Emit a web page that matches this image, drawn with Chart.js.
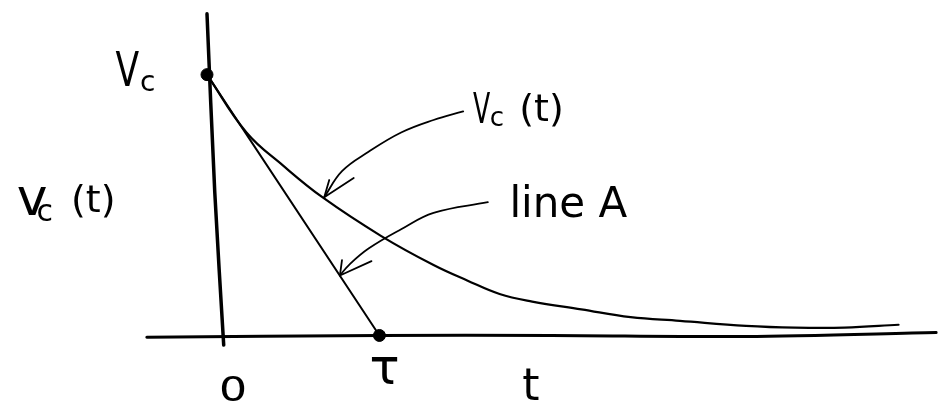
<!DOCTYPE html>
<html>
<head>
<meta charset="utf-8">
<script src="https://cdn.jsdelivr.net/npm/chart.js@4"></script>
<style>
html, body { margin: 0; padding: 0; background: #fff; }
#wrap { width: 946px; height: 413px; }
</style>
</head>
<body>
<div id="wrap"><canvas id="mainChart"></canvas></div>
<script>
// time in units of tau, voltage in units of Vc
const curveT = [0, 0.229, 0.44, 0.669, 1.011, 1.314, 1.509, 1.697, 1.886, 2.171, 2.457, 2.743, 3.126, 3.411, 3.697, 4.011];
const curveV = [1, 0.778, 0.652, 0.530, 0.381, 0.270, 0.211, 0.159, 0.130, 0.100, 0.070, 0.056, 0.037, 0.030, 0.030, 0.041];
const lineAT = [0, 1];
const lineAV = [1, 0];
const markT = [0, 1];
const markV = [1, 0];

// the hand drawn axes
const xAxisT = [-0.349, 1, 2.0, 3.126, 4.229];
const xAxisV = [-0.007, 0, 0, -0.004, 0.011];
const yAxisT = [0, 0.045, 0.097];
const yAxisV = [1.233, 0.55, -0.037];

// arrows pointing from the labels
const arrow1T = [1.486, 1.314, 1.126, 0.937, 0.783, 0.680];
const arrow1V = [0.859, 0.826, 0.778, 0.704, 0.630, 0.530];
const head1T = [0.709, 0.680, 0.851];
const head1V = [0.596, 0.530, 0.604];
const arrow2T = [1.629, 1.314, 1.126, 0.937, 0.823, 0.771];
const arrow2V = [0.511, 0.470, 0.407, 0.333, 0.270, 0.230];
const head2T = [0.783, 0.771, 0.954];
const head2V = [0.289, 0.230, 0.285];

// text pieces
const labelText = ['V', 'c', 'v', 'c', '(t)', 'V', 'c', '(t)', 'line A', '0', 'τ', 't'];
const labelT = [-0.531, -0.389, -1.103, -0.989, -0.789, 1.543, 1.640, 1.811, 1.754, 0.069, 0.943, 1.829];
const labelV = [0.956, 0.937, 0.463, 0.437, 0.474, 0.815, 0.804, 0.822, 0.456, -0.252, -0.185, -0.248];

const xMin = -1.16, xMax = 4.2457;
const yMin = -0.2704, yMax = 1.2593;

// font size and horizontal squash of each text piece
const labelSize = [48, 28, 52, 30, 38, 42, 26, 38, 42, 34, 50, 44];
const labelSquash = [0.72, 1, 1, 1, 1, 0.6, 1, 1, 1, 1.3, 1, 1];

function pts(xs, ys) {
    return xs.map((x, i) => ({x: x, y: ys[i]}));
}

function line(data, width, tension) {
    return {
        data: data,
        showLine: true,
        borderColor: '#000',
        borderWidth: width,
        tension: tension,
        pointRadius: 0,
        borderCapStyle: 'round',
        borderJoinStyle: 'round',
        fill: false
    };
}

const labelsPlugin = {
    id: 'sketchLabels',
    afterDatasetsDraw(chart) {
        const ctx = chart.ctx;
        const xs = chart.scales.x, ys = chart.scales.y;
        ctx.fillStyle = '#000';
        ctx.textAlign = 'left';
        ctx.textBaseline = 'alphabetic';
        labelText.forEach((txt, i) => {
            ctx.save();
            ctx.translate(xs.getPixelForValue(labelT[i]), ys.getPixelForValue(labelV[i]));
            ctx.scale(labelSquash[i], 1);
            ctx.font = labelSize[i] + "px 'DejaVu Sans'";
            ctx.fillText(txt, 0, 0);
            ctx.restore();
        });
    }
};

const marks = {
    data: pts(markT, markV),
    showLine: false,
    pointRadius: 6,
    pointBackgroundColor: '#000',
    pointBorderColor: '#000'
};

new Chart(document.getElementById('mainChart'), {
    type: 'scatter',
    data: {
        datasets: [
            line(pts(xAxisT, xAxisV), 3, 0.3),
            line(pts(yAxisT, yAxisV), 3.5, 0.3),
            line(pts(curveT, curveV), 2.2, 0.4),
            line(pts(lineAT, lineAV), 2, 0),
            line(pts(arrow1T, arrow1V), 1.8, 0.4),
            line(pts(head1T, head1V), 1.8, 0),
            line(pts(arrow2T, arrow2V), 1.8, 0.4),
            line(pts(head2T, head2V), 1.8, 0),
            marks
        ]
    },
    options: {
        responsive: true,
        maintainAspectRatio: false,
        animation: false,
        events: [],
        layout: { padding: 0 },
        scales: {
            x: { type: 'linear', min: xMin, max: xMax, display: false },
            y: { type: 'linear', min: yMin, max: yMax, display: false }
        },
        plugins: {
            legend: { display: false },
            tooltip: { enabled: false }
        }
    },
    plugins: [labelsPlugin]
});
</script>
</body>
</html>
